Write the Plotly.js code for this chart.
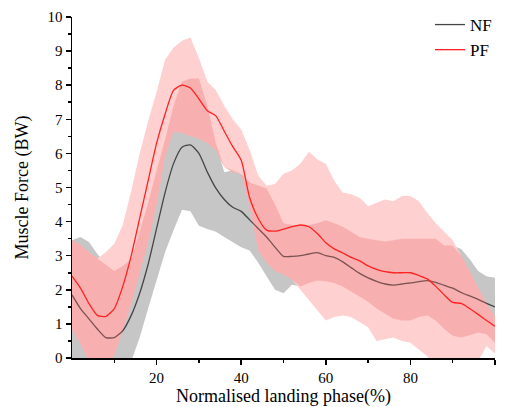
<!DOCTYPE html>
<html>
<head>
<meta charset="utf-8">
<script src="https://cdn.plot.ly/plotly-3.0.1.min.js"></script>
<style>html,body{margin:0;padding:0;background:#fff;}#chart{width:505px;height:407px;}</style>
</head>
<body>
<div id="chart"></div>
<script>
// Normalised landing phase (%)
var phase = [0,2,4,6,8,10,12,14,16,18,20,22,24,26,28,30,32,34,36,38,40,42,44,46,48,50,52,54,56,58,60,62,64,66,68,70,72,74,76,78,80,82,84,86,88,90,92,94,96,98,100];

// NF: mean, upper and lower bound (BW)
var nfMean = [1.85,1.45,1.15,0.85,0.6,0.6,0.8,1.25,1.9,2.75,3.8,4.85,5.7,6.18,6.25,6.0,5.45,4.98,4.65,4.42,4.3,4.05,3.8,3.55,3.25,2.98,2.98,3.0,3.05,3.09,3.0,2.95,2.82,2.65,2.48,2.35,2.25,2.17,2.14,2.17,2.2,2.24,2.27,2.22,2.13,2.05,1.92,1.82,1.72,1.6,1.5];
var nfUpper = [3.45,3.55,3.4,3.05,2.75,2.55,2.7,2.9,3.7,4.55,5.5,6.4,7.4,8.1,8.2,8.2,7.4,6.3,5.45,5.5,5.4,5.15,5.07,4.97,4.5,3.95,3.9,3.9,3.9,3.95,4.04,3.95,3.85,3.7,3.55,3.5,3.45,3.42,3.45,3.5,3.5,3.5,3.5,3.5,3.3,3.3,3.2,2.9,2.55,2.4,2.35];
var nfLower = [-0.8,-1.0,-1.2,-1.3,-1.2,-1.0,-0.6,-0.1,0.6,1.45,2.3,3.1,3.75,4.35,4.3,3.88,3.78,3.7,3.55,3.4,3.25,3.15,2.8,2.4,2.0,1.9,2.15,2.1,2.2,2.27,2.25,2.2,2.1,1.95,1.8,1.65,1.45,1.3,1.15,1.1,1.1,1.2,1.25,1.1,0.85,0.65,0.6,0.67,0.75,0.7,0.45];

// PF: mean, upper and lower bound (BW)
var pfMean = [2.4,2.05,1.6,1.25,1.22,1.45,2.1,3.0,4.1,5.2,6.3,7.15,7.85,8.0,7.92,7.6,7.25,7.1,6.65,6.2,5.8,4.7,4.1,3.75,3.72,3.78,3.85,3.9,3.85,3.65,3.38,3.2,3.08,2.95,2.85,2.7,2.6,2.53,2.5,2.5,2.5,2.42,2.32,2.1,1.85,1.63,1.6,1.45,1.28,1.1,0.93];
var pfUpper = [3.45,3.32,3.1,2.92,3.1,3.35,3.9,4.9,6.0,6.95,7.8,8.75,9.1,9.3,9.4,8.8,8.1,7.85,7.4,7.0,6.7,6.1,5.35,5.05,5.1,5.4,5.5,5.7,6.05,5.82,5.7,5.2,4.85,4.8,4.7,4.45,4.55,4.65,4.6,4.75,4.75,4.6,4.25,3.95,3.7,3.45,3.0,2.55,2.05,1.6,1.2];
var pfLower = [0.85,0.4,-0.1,-0.5,-0.5,0.1,0.8,1.6,2.5,3.4,4.5,5.9,6.65,6.6,6.5,6.44,6.3,6.1,5.6,5.45,5.4,4.45,3.15,2.8,2.55,2.45,2.3,2.0,1.7,1.4,1.1,1.2,1.25,1.2,1.05,0.9,0.5,0.55,0.6,0.5,0.45,0.25,0.05,-0.3,-0.4,-0.4,-0.4,-0.3,-0.1,0.35,0.13];

var seriesNames = ['NF','PF'];
var xTicks = [20,40,60,80,100];
var xMinorTicks = [10,30,50,70,90];

// overlap of the two bands (built from the arrays above)
var ovLower = phase.map(function(_, i){ return Math.max(nfLower[i], pfLower[i]); });
var ovUpper = phase.map(function(_, i){ return Math.max(ovLower[i], Math.min(nfUpper[i], pfUpper[i])); });

function bound(y, fill, color){
  var t = {x: phase, y: y, mode: 'lines', line: {width: 0, color: 'rgba(0,0,0,0)'},
           showlegend: false, hoverinfo: 'skip'};
  if (fill){ t.fill = 'tonexty'; t.fillcolor = color; }
  return t;
}

var traces = [
  bound(nfLower),
  bound(nfUpper, true, '#c6c6c6'),
  bound(pfLower),
  bound(pfUpper, true, '#ffd0d0'),
  {x: phase, y: nfMean, mode: 'lines', name: seriesNames[0], line: {color: '#454545', width: 1.3, shape: 'spline', smoothing: 0.6}},
  bound(ovLower),
  bound(ovUpper, true, 'rgba(235,110,110,0.33)'),
  {x: phase, y: pfMean, mode: 'lines', name: seriesNames[1], line: {color: '#ff2222', width: 1.3, shape: 'spline', smoothing: 0.6}}
];

var font = {family: 'Liberation Serif, Times New Roman, serif', color: '#000'};

var layout = {
  width: 505, height: 407,
  margin: {l: 72, r: 0, t: 0, b: 49},
  paper_bgcolor: '#fff', plot_bgcolor: '#fff',
  font: {family: font.family, size: 15, color: '#000'},
  showlegend: true,
  legend: {x: 0.8268, xanchor: 'left', y: 0.9804, yanchor: 'top', bgcolor: 'rgba(0,0,0,0)', traceorder: 'normal',
           font: {family: font.family, size: 17, color: '#000'}, tracegroupgap: 0},
  xaxis: {
    domain: [0, 0.97691],
    range: [0, 100], tickvals: xTicks, ticks: 'outside', ticklen: 5, tickwidth: 1.5, tickcolor: '#000',
    showline: true, linecolor: '#000', linewidth: 1.5, showgrid: false, zeroline: false,
    minor: {tickvals: xMinorTicks, ticks: 'outside', ticklen: 3, tickwidth: 1.5, tickcolor: '#000'},
    tickfont: {family: font.family, size: 15, color: '#000'},
    title: {text: 'Normalised landing phase(%)', font: {family: font.family, size: 18, color: '#000'}, standoff: 8}
  },
  yaxis: {
    domain: [0, 0.952514],
    range: [0, 10], dtick: 1, tick0: 0, ticks: 'outside', ticklen: 5, tickwidth: 1.5, tickcolor: '#000',
    showline: true, linecolor: '#000', linewidth: 1.5, showgrid: false, zeroline: false,
    minor: {dtick: 0.5, ticks: 'outside', ticklen: 3, tickwidth: 1.5, tickcolor: '#000'},
    tickfont: {family: font.family, size: 15, color: '#000'},
    title: {text: 'Muscle Force (BW)', font: {family: font.family, size: 18, color: '#000'}, standoff: 14}
  }
};

Plotly.newPlot('chart', traces, layout, {displayModeBar: false, staticPlot: true});
</script>
</body>
</html>
